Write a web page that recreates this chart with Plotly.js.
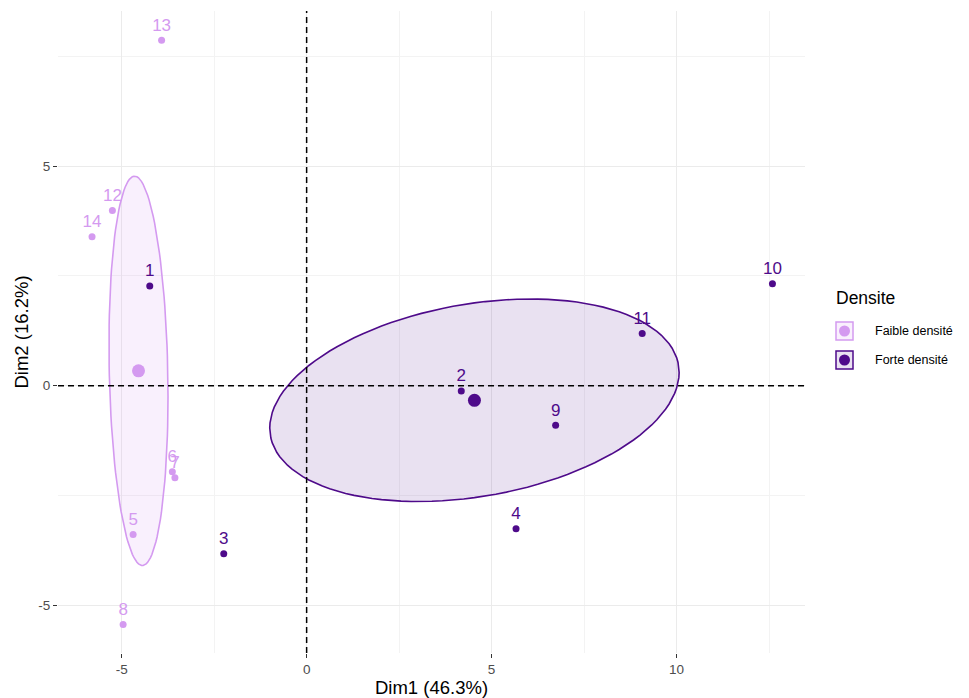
<!DOCTYPE html>
<html>
<head>
<meta charset="utf-8">
<script src="https://cdn.plot.ly/plotly-3.0.1.min.js"></script>
<style>html,body{margin:0;padding:0;background:#fff;}#chart{width:969px;height:698px;}</style>
</head>
<body>
<div id="chart"></div>
<script>
// ---- data ----
const faibleLabels = ["5", "6", "7", "8", "12", "13", "14"];
const faibleDim1 = [-4.69, -3.63, -3.56, -4.96, -5.25, -3.92, -5.80];
const faibleDim2 = [-3.39, -1.96, -2.10, -5.44, 3.99, 7.87, 3.39];

const forteLabels = ["1", "2", "3", "4", "9", "10", "11"];
const forteDim1 = [-4.24, 4.18, -2.24, 5.66, 6.73, 12.59, 9.07];
const forteDim2 = [2.27, -0.12, -3.83, -3.26, -0.90, 2.32, 1.19];

const groupNames = ["Faible densité", "Forte densité"];
const legendTitle = "Densite";
const xTitle = "Dim1 (46.3%)";
const yTitle = "Dim2 (16.2%)";
const xTickVals = [-5, 0, 5, 10];
const xTickText = ["-5", "0", "5", "10"];
const yTickVals = [-5, 0, 5];
const yTickText = ["-5", "0", "5"];

// ---- styling ----
const colFaible = "#D49AF0";
const colForte = "#4E0A8A";
const fillFaible = "rgba(212,154,240,0.15)";
const fillForte = "rgba(78,10,138,0.12)";
const FONT = "Liberation Sans, Arial, sans-serif";

function mean(a){return a.reduce((s,v)=>s+v,0)/a.length;}
// confidence ellipse of the group mean (95 %)
function confEllipse(xs, ys){
  const n = xs.length, mx = mean(xs), my = mean(ys);
  let sxx=0, syy=0, sxy=0;
  for(let i=0;i<n;i++){sxx+=(xs[i]-mx)**2; syy+=(ys[i]-my)**2; sxy+=(xs[i]-mx)*(ys[i]-my);}
  sxx/=(n-1); syy/=(n-1); sxy/=(n-1);
  sxx/=n; syy/=n; sxy/=n;
  const r = Math.sqrt(-2*Math.log(0.05));
  const l11 = Math.sqrt(sxx), l21 = sxy/l11, l22 = Math.sqrt(syy - l21*l21);
  const ex=[], ey=[];
  for(let k=0;k<=120;k++){
    const t = 2*Math.PI*k/120, c=Math.cos(t), s=Math.sin(t);
    ex.push(mx + r*l11*c);
    ey.push(my + r*(l21*c + l22*s));
  }
  return {ex, ey, mx, my};
}

const eF = confEllipse(faibleDim1, faibleDim2);
const eS = confEllipse(forteDim1, forteDim2);

const traces = [
  {x:eF.ex, y:eF.ey, mode:"lines", fill:"toself", fillcolor:fillFaible,
   line:{color:colFaible, width:1.6}, hoverinfo:"skip", showlegend:false},
  {x:eS.ex, y:eS.ey, mode:"lines", fill:"toself", fillcolor:fillForte,
   line:{color:colForte, width:1.6}, hoverinfo:"skip", showlegend:false},
  {x:faibleDim1, y:faibleDim2, text:faibleLabels, mode:"markers+text", textposition:"top center",
   marker:{color:colFaible, size:7}, textfont:{color:colFaible, size:17, family:FONT},
   name:groupNames[0], showlegend:false},
  {x:forteDim1, y:forteDim2, text:forteLabels, mode:"markers+text", textposition:"top center",
   marker:{color:colForte, size:7}, textfont:{color:colForte, size:17, family:FONT},
   name:groupNames[1], showlegend:false},
  {x:[eF.mx], y:[eF.my], mode:"markers", marker:{color:colFaible, size:13}, showlegend:false, hoverinfo:"skip"},
  {x:[eS.mx], y:[eS.my], mode:"markers", marker:{color:colForte, size:13}, showlegend:false, hoverinfo:"skip"}
];

// plot area in pixels: x 58..805, y 11..653
const L=58, R=805, T=11, B=653, W=969, H=698;
const px = v => (v-L)/(R-L);
const py = v => (B-v)/(B-T);

const shapes = [
  {type:"line", xref:"paper", x0:0, x1:1, yref:"y", y0:0, y1:0, line:{color:"#000", width:1.5, dash:"6px,4px"}},
  {type:"line", yref:"paper", y0:0, y1:1, xref:"x", x0:0, x1:0, line:{color:"#000", width:1.5, dash:"6px,4px"}}
];
const annotations = [
  {xref:"paper", yref:"paper", x:px(834), y:py(298), text:legendTitle, showarrow:false,
   xanchor:"left", yanchor:"middle", font:{family:FONT, size:17.5, color:"#000"}}
];
const legCols = [[colFaible, fillFaible],[colForte, fillForte]];
const legY = [331, 360];
for(let i=0;i<2;i++){
  const cy = legY[i];
  shapes.push({type:"rect", xref:"paper", yref:"paper", x0:px(836), x1:px(853), y0:py(cy+9), y1:py(cy-9),
    line:{color:legCols[i][0], width:1.5}, fillcolor:legCols[i][1]});
  shapes.push({type:"circle", xref:"paper", yref:"paper", x0:px(839), x1:px(850), y0:py(cy+5.5), y1:py(cy-5.5),
    line:{color:legCols[i][0], width:0}, fillcolor:legCols[i][0]});
  annotations.push({xref:"paper", yref:"paper", x:px(873), y:py(cy), text:groupNames[i], showarrow:false,
    xanchor:"left", yanchor:"middle", font:{family:FONT, size:12.5, color:"#000"}});
}

const axisCommon = {
  showgrid:true, gridcolor:"#EBEBEB", gridwidth:1, zeroline:false, showline:false,
  ticks:"outside", ticklen:4, tickwidth:1.2, tickcolor:"#333",
  tickfont:{family:FONT, size:13.5, color:"#4D4D4D"},
  minor:{showgrid:true, gridcolor:"#F3F3F3", gridwidth:1, ticks:""}
};

const layout = {
  width:W, height:H,
  margin:{l:L, r:W-R, t:T, b:H-B},
  paper_bgcolor:"#fff", plot_bgcolor:"#fff",
  showlegend:false,
  xaxis:Object.assign({}, axisCommon, {range:[-6.72, 13.47], tickmode:"array", tickvals:xTickVals, ticktext:xTickText,
    minor:Object.assign({}, axisCommon.minor, {dtick:2.5, tick0:0}),
    title:{text:xTitle, font:{family:FONT, size:18.5, color:"#000"}, standoff:2}}),
  yaxis:Object.assign({}, axisCommon, {range:[-6.09, 8.535], tickmode:"array", tickvals:yTickVals, ticktext:yTickText,
    minor:Object.assign({}, axisCommon.minor, {dtick:2.5, tick0:0}),
    title:{text:yTitle, font:{family:FONT, size:18.5, color:"#000"}, standoff:4}}),
  shapes:shapes, annotations:annotations
};

Plotly.newPlot("chart", traces, layout, {displayModeBar:false, staticPlot:true});
</script>
</body>
</html>
